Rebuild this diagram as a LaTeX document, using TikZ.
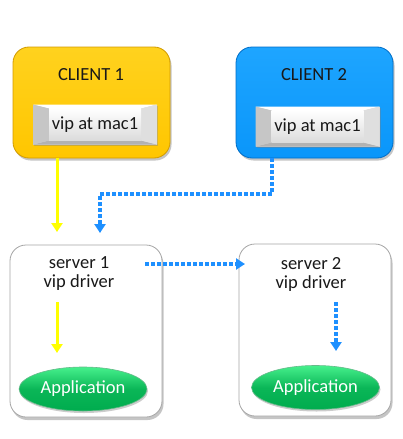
\documentclass[tikz,border=0pt]{standalone}
\usepackage{fontspec}
\setmainfont{Carlito}
\usetikzlibrary{shadows,shapes.geometric,arrows.meta,calc}
\definecolor{cyel}{RGB}{255,198,0}
\definecolor{cyeltop}{RGB}{255,210,30}
\definecolor{cyeldk}{RGB}{210,155,0}
\definecolor{cblu}{RGB}{10,150,250}
\definecolor{cblutop}{RGB}{30,165,255}
\definecolor{cbludk}{RGB}{0,110,200}
\definecolor{dotblue}{RGB}{30,144,255}
\definecolor{arryel}{RGB}{255,255,0}
\definecolor{appgreen}{RGB}{0,172,78}
\definecolor{applight}{RGB}{70,240,140}
\definecolor{appdk}{RGB}{0,140,60}
\definecolor{txt}{RGB}{25,25,25}
\tikzset{
  clientbox/.style={rounded corners=16pt, minimum width=157pt, minimum height=111pt, inner sep=0pt, line width=0.8pt, drop shadow={shadow xshift=1.5pt, shadow yshift=-2.5pt, opacity=0.45}},
  serverbox/.style={rounded corners=16pt, minimum width=152pt, minimum height=172pt, inner sep=0pt, draw=gray!70, line width=0.8pt, fill=white, drop shadow={shadow xshift=1.5pt, shadow yshift=-3pt, opacity=0.45}},
  bevelbox/.style={minimum width=124pt, minimum height=40pt, inner sep=0pt, fill=gray!35, text=txt, drop shadow={shadow xshift=1pt, shadow yshift=-1.5pt, opacity=0.4},
    font=\fontsize{18.5}{20}\selectfont,
    path picture={
      \coordinate (bnw) at (path picture bounding box.north west);
      \coordinate (bne) at (path picture bounding box.north east);
      \coordinate (bsw) at (path picture bounding box.south west);
      \coordinate (bse) at (path picture bounding box.south east);
      \fill[white] (bnw) -- (bne) -- ($(bne)+(-16pt,-4pt)$) -- ($(bnw)+(16pt,-4pt)$) -- cycle;
      \fill[gray!60] (bsw) -- (bse) -- ($(bse)+(-16pt,4pt)$) -- ($(bsw)+(16pt,4pt)$) -- cycle;
      \fill[gray!45] (bnw) -- ($(bnw)+(16pt,-4pt)$) -- ($(bsw)+(16pt,4pt)$) -- (bsw) -- cycle;
      \fill[gray!25] (bne) -- ($(bne)+(-16pt,-4pt)$) -- ($(bse)+(-16pt,4pt)$) -- (bse) -- cycle;
      \shade[top color=white, bottom color=gray!28] ($(bnw)+(16pt,-4pt)$) rectangle ($(bse)+(-16pt,4pt)$);
    }},
  appnode/.style={ellipse, minimum width=128pt, minimum height=44pt, inner sep=0pt, top color=applight, bottom color=appgreen, middle color=appgreen!85!applight, draw=appdk!60, line width=0.6pt, text=white, font=\fontsize{18.5}{20}\selectfont, drop shadow={shadow xshift=1pt, shadow yshift=-2pt, opacity=0.4}},
  lbl/.style={font=\fontsize{18.5}{19}\selectfont, text=txt, inner sep=0pt, align=center},
  yarrow/.style={draw=arryel, line width=3pt, -{Triangle[length=9pt,width=11pt]}},
  barrow/.style={draw=dotblue, line width=3.5pt, dash pattern=on 3.5pt off 2.5pt, -{Triangle[length=9pt,width=11pt]}},
}
\begin{document}
\begin{tikzpicture}[x=1pt,y=-1pt]
\useasboundingbox[fill=white] (0,0) rectangle (403,439);
% clients
\node[clientbox, draw=cyeldk, top color=cyeltop, bottom color=cyel] (c1) at (91.5,102.5) {};
\node[clientbox, draw=cbludk, top color=cblutop, bottom color=cblu] (c2) at (314.5,102.5) {};
\node[lbl] (c1t) at (91,75) {CLIENT 1};
\node[lbl] (c2t) at (314,75) {CLIENT 2};
\node[bevelbox] (v1) at (95,124.5) {vip at mac1};
\node[bevelbox] (v2) at (317.5,126.5) {vip at mac1};
% servers
\node[serverbox] (s1) at (86,331) {};
\node[serverbox] (s2) at (315,330) {};
\node[lbl] (s1t) at (79,274) {server 1\\vip driver};
\node[lbl] (s2t) at (311,274) {server 2\\vip driver};
\node[appnode] (a1) at (83,389) {Application};
\node[appnode] (a2) at (315.5,387.5) {Application};
% connector ends
\coordinate (y1e) at (57,232);
\coordinate (b1m) at (272,194);
\coordinate (b1n) at (100,194);
\coordinate (b1e) at (100,233);
\coordinate (b2s) at (145,264);
\coordinate (b2e) at (245,264);
\coordinate (y2s) at (57,302);
\coordinate (y2e) at (57,353);
\coordinate (b3s) at (336,302);
\coordinate (b3e) at (336,351);
% connectors
\draw[yarrow] (c1.south -| y1e) -- (y1e);
\draw[barrow] (c2.south -| b1m) -- (b1m) -- (b1n) -- (b1e);
\draw[barrow] (b2s) -- (b2e);
\draw[yarrow] (y2s) -- (y2e);
\draw[barrow] (b3s) -- (b3e);
\end{tikzpicture}
\end{document}
